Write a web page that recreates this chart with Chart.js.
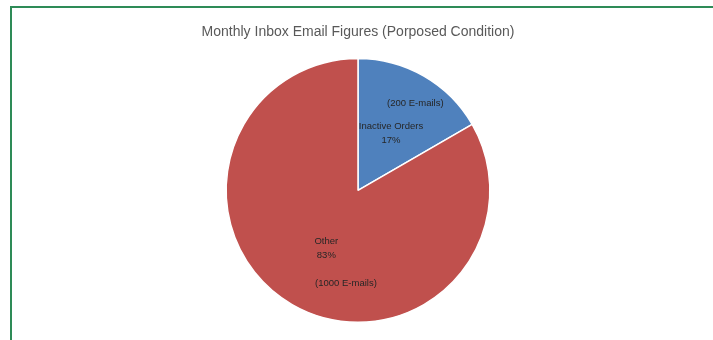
<!DOCTYPE html>
<html>
<head>
<meta charset="utf-8">
<title>Monthly Inbox Email Figures</title>
<script src="https://cdn.jsdelivr.net/npm/chart.js@4.4.1/dist/chart.umd.min.js"></script>
<style>
  html, body { margin: 0; padding: 0; background: #fff; }
  #wrap { position: relative; width: 713px; height: 340px; overflow: hidden; }
  #chart { position: absolute; left: 0; top: 0; }
  .frame-top { position: absolute; left: 10px; top: 6px; width: 703px; height: 2px; background: #2e8b57; }
  .frame-left { position: absolute; left: 10px; top: 6px; width: 2px; height: 334px; background: #2e8b57; }
</style>
</head>
<body>
<div id="wrap">
  <canvas id="chart" width="713" height="340"></canvas>
  <div class="frame-top"></div>
  <div class="frame-left"></div>
</div>
<script>
// chart data
const categories = ['Inactive Orders', 'Other'];
const emailCounts = [200, 1000];
const emailLabels = ['(200 E-mails)', '(1000 E-mails)'];
const sliceColors = ['#4f81bd', '#c0504d'];

const total = emailCounts.reduce((a, b) => a + b, 0);

// label placement per slice: [radius fraction, angle offset in degrees from mid angle]
const namePos = [[0.50, 0], [0.50, -1.3]];
const emailPos = [[0.79, 3.4], [0.71, -22.6]];

/** Draws the data labels inside the slices, Excel style */
const sliceLabels = {
  id: 'sliceLabels',
  afterDatasetsDraw(chart) {
    const ctx = chart.ctx;
    const meta = chart.getDatasetMeta(0);
    ctx.save();
    ctx.fillStyle = '#262626';
    ctx.font = '9.5px "Liberation Sans", Arial, sans-serif';
    ctx.textAlign = 'center';
    ctx.textBaseline = 'middle';
    meta.data.forEach((arc, i) => {
      const mid = (arc.startAngle + arc.endAngle) / 2;
      const pct = Math.round(emailCounts[i] / total * 100) + '%';

      const a1 = mid + namePos[i][1] * Math.PI / 180;
      const r1 = arc.outerRadius * namePos[i][0];
      const x1 = arc.x + Math.cos(a1) * r1;
      const y1 = arc.y + Math.sin(a1) * r1;
      ctx.fillText(categories[i], x1, y1 - 7);
      ctx.fillText(pct, x1, y1 + 7);

      const a2 = mid + emailPos[i][1] * Math.PI / 180;
      const r2 = arc.outerRadius * emailPos[i][0];
      ctx.fillText(emailLabels[i], arc.x + Math.cos(a2) * r2, arc.y + Math.sin(a2) * r2);
    });
    ctx.restore();
  }
};

new Chart(document.getElementById('chart'), {
  type: 'pie',
  data: {
    labels: categories,
    datasets: [{
      data: emailCounts,
      backgroundColor: sliceColors,
      borderColor: '#ffffff',
      borderWidth: 1.5
    }]
  },
  options: {
    responsive: false,
    animation: false,
    layout: { padding: { left: 3, right: 0, top: 0, bottom: 17 } },
    plugins: {
      legend: { display: false },
      tooltip: { enabled: false },
      title: {
        display: true,
        text: 'Monthly Inbox Email Figures (Porposed Condition)',
        color: '#595959',
        font: { family: '"Liberation Sans", Arial, sans-serif', size: 14, weight: 'normal' },
        padding: { top: 24, bottom: 17 }
      }
    }
  },
  plugins: [sliceLabels]
});
</script>
</body>
</html>
